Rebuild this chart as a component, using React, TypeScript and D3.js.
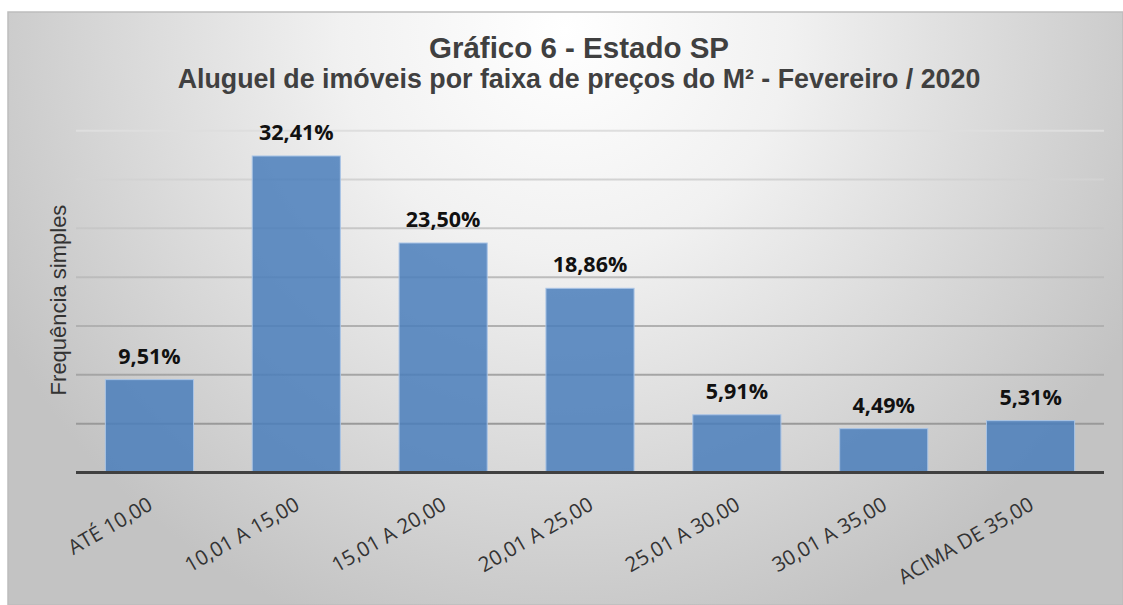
import { useEffect, useRef } from 'react';
import * as d3 from 'd3';

const categories = ['ATÉ 10,00', '10,01 A 15,00', '15,01 A 20,00', '20,01 A 25,00', '25,01 A 30,00', '30,01 A 35,00', 'ACIMA DE 35,00'];
const values = [9.51, 32.41, 23.5, 18.86, 5.91, 4.49, 5.31];
const valueLabels = ['9,51%', '32,41%', '23,50%', '18,86%', '5,91%', '4,49%', '5,31%'];
const gridTicks = [0, 5, 10, 15, 20, 25, 30, 35];

const title = 'Gráfico 6 - Estado SP';
const subtitle = 'Aluguel de imóveis por faixa de preços do M² - Fevereiro / 2020';
const yTitle = 'Frequência simples';

export default function App() {
  const svgRef = useRef<SVGSVGElement | null>(null);

  useEffect(() => {
    if (!svgRef.current) return;
    const svg = d3.select(svgRef.current);
    svg.selectAll('*').remove();

    const width = 1123;
    const height = 605;
    const plot = { left: 76, right: 1104, top: 130.7, bottom: 472.5 };

    const defs = svg.append('defs');
    const bg = defs.append('radialGradient')
      .attr('id', 'bg')
      .attr('gradientUnits', 'userSpaceOnUse')
      .attr('cx', 565).attr('cy', 30).attr('r', 640);
    bg.append('stop').attr('offset', 0).attr('stop-color', '#ffffff');
    bg.append('stop').attr('offset', 0.35).attr('stop-color', '#f1f1f1');
    bg.append('stop').attr('offset', 1).attr('stop-color', '#c3c3c3');

    const gridGrad = defs.append('linearGradient')
      .attr('id', 'grid')
      .attr('gradientUnits', 'userSpaceOnUse')
      .attr('x1', 0).attr('y1', plot.top).attr('x2', 0).attr('y2', plot.bottom);
    gridGrad.append('stop').attr('offset', 0).attr('stop-color', '#dedede');
    gridGrad.append('stop').attr('offset', 1).attr('stop-color', '#8e8e8e');

    svg.append('rect').attr('width', width).attr('height', height).attr('fill', '#ffffff');
    svg.append('rect')
      .attr('x', 8).attr('y', 12)
      .attr('width', width - 8).attr('height', height - 12)
      .attr('fill', 'url(#bg)')
      .attr('stroke', '#bdbdbd')
      .attr('stroke-width', 1.5);

    const x = d3.scaleBand<string>()
      .domain(categories)
      .range([plot.left, plot.right])
      .paddingInner(0.4)
      .paddingOuter(0.2);

    const y = d3.scaleLinear()
      .domain([0, 35])
      .range([plot.bottom, plot.top]);

    // gridlines
    svg.append('g')
      .selectAll('line')
      .data(gridTicks.slice(1))
      .enter()
      .append('line')
      .attr('x1', plot.left)
      .attr('x2', plot.right)
      .attr('y1', d => y(d))
      .attr('y2', d => y(d))
      .attr('stroke', 'url(#grid)')
      .attr('stroke-width', 2);

    // bars
    svg.append('g')
      .selectAll('rect')
      .data(values)
      .enter()
      .append('rect')
      .attr('x', (_, i) => x(categories[i])!)
      .attr('y', d => y(d))
      .attr('width', x.bandwidth())
      .attr('height', d => plot.bottom - y(d))
      .attr('fill', '#4a7ebb')
      .attr('fill-opacity', 0.85)
      .attr('stroke', '#a9c4e6')
      .attr('stroke-width', 1);

    // baseline
    svg.append('line')
      .attr('x1', plot.left)
      .attr('x2', plot.right)
      .attr('y1', y(0))
      .attr('y2', y(0))
      .attr('stroke', '#404040')
      .attr('stroke-width', 3);

    // value labels
    svg.append('g')
      .selectAll('text')
      .data(values)
      .enter()
      .append('text')
      .attr('x', (_, i) => x(categories[i])! + x.bandwidth() / 2)
      .attr('y', d => y(d) - 16)
      .attr('text-anchor', 'middle')
      .attr('font-family', '"Open Sans", sans-serif')
      .attr('font-weight', 'bold')
      .attr('font-size', 21.5)
      .attr('fill', '#111111')
      .text((_, i) => valueLabels[i]);

    // category labels
    svg.append('g')
      .selectAll('text')
      .data(categories)
      .enter()
      .append('text')
      .attr('transform', d => `translate(${x(d)! + x.bandwidth() / 2 + 1},${plot.bottom + 30}) rotate(-30)`)
      .attr('text-anchor', 'end')
      .attr('dy', '0.35em')
      .attr('font-family', '"Open Sans", sans-serif')
      .attr('font-size', 20.5)
      .attr('fill', '#333333')
      .text(d => d);

    // titles
    svg.append('text')
      .attr('x', 579).attr('y', 58)
      .attr('text-anchor', 'middle')
      .attr('font-family', '"Liberation Sans", Arial, sans-serif')
      .attr('font-weight', 'bold')
      .attr('font-size', 29.5)
      .attr('fill', '#404040')
      .text(title);

    svg.append('text')
      .attr('x', 579).attr('y', 88)
      .attr('text-anchor', 'middle')
      .attr('font-family', '"Liberation Sans", Arial, sans-serif')
      .attr('font-weight', 'bold')
      .attr('font-size', 26.8)
      .attr('fill', '#404040')
      .text(subtitle);

    svg.append('text')
      .attr('transform', `translate(66,300) rotate(-90)`)
      .attr('text-anchor', 'middle')
      .attr('font-family', '"Liberation Sans", Arial, sans-serif')
      .attr('font-size', 22)
      .attr('fill', '#333333')
      .text(yTitle);
  }, []);

  return (
    <div style={{ position: 'absolute', left: 0, top: 0 }}>
      <svg ref={svgRef} width={1123} height={605} style={{ display: 'block' }}></svg>
    </div>
  );
}
